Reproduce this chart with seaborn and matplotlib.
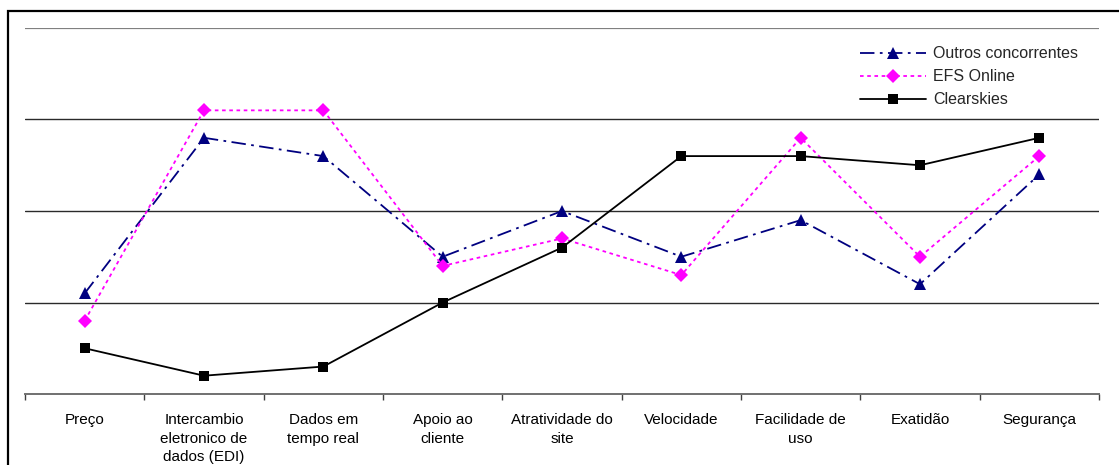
import numpy as np
import pandas as pd
import matplotlib
matplotlib.use("Agg")
import matplotlib.pyplot as plt
import matplotlib.patches as mpatches
from matplotlib.ticker import FixedLocator
import seaborn as sns

categories = ["Preço", "Intercambio eletronico de dados (EDI)", "Dados em tempo real",
              "Apoio ao cliente", "Atratividade do site", "Velocidade",
              "Facilidade de uso", "Exatidão", "Segurança"]
tick_labels = ["Preço", "Intercambio\neletronico de\ndados (EDI)", "Dados em\ntempo real",
               "Apoio ao\ncliente", "Atratividade do\nsite", "Velocidade",
               "Facilidade de\nuso", "Exatidão", "Segurança"]
series_names = ["Outros concorrentes", "EFS Online", "Clearskies"]
outros = [1.1, 2.8, 2.6, 1.5, 2.0, 1.5, 1.9, 1.2, 2.4]
efs = [0.8, 3.1, 3.1, 1.4, 1.7, 1.3, 2.8, 1.5, 2.6]
clearskies = [0.5, 0.2, 0.3, 1.0, 1.6, 2.6, 2.6, 2.5, 2.8]

df = pd.DataFrame({
    "categoria": categories * 3,
    "valor": outros + efs + clearskies,
    "serie": np.repeat(series_names, len(categories)),
})

sns.set_theme(style="white")
plt.rcParams["font.family"] = ["Liberation Sans", "DejaVu Sans"]

fig = plt.figure(figsize=(11.19, 4.65), dpi=100)
ax = fig.add_axes([25 / 1119, 1 - 394 / 465, (1099 - 25) / 1119, (394 - 28) / 465])

palette = {"Outros concorrentes": "#000080", "EFS Online": "#FF00FF", "Clearskies": "#000000"}
markers = {"Outros concorrentes": "^", "EFS Online": "D", "Clearskies": "s"}
dashes = {"Outros concorrentes": (8, 3, 1.5, 3), "EFS Online": (2, 2), "Clearskies": ""}

sns.lineplot(data=df, x="categoria", y="valor", hue="serie", style="serie",
             palette=palette, markers=markers, dashes=dashes, ax=ax,
             sort=False, linewidth=1.3, markersize=9, markeredgewidth=0,
             hue_order=series_names, style_order=series_names)

for line in ax.get_lines():
    if line.get_marker() == "D":
        line.set_markersize(7)
    elif line.get_marker() == "s":
        line.set_markersize(7.3)

ax.set_xlim(-0.5, len(categories) - 0.5)
ax.set_ylim(0, 4)
ax.set_xlabel("")
ax.set_ylabel("")
ax.set_yticks([])
for y in [1, 2, 3]:
    ax.axhline(y, color="#2a2a2a", lw=1.0, zorder=0)
ax.axhline(4, color="#808080", lw=1.6, zorder=0)

for s in ["left", "right", "top"]:
    ax.spines[s].set_visible(False)
ax.spines["bottom"].set_color("#707070")
ax.spines["bottom"].set_linewidth(1.4)

ax.set_xticks(range(len(categories)))
ax.set_xticklabels(tick_labels, fontsize=11, linespacing=1.38, va="top")
ax.tick_params(axis="x", which="major", bottom=False, length=0, pad=14, colors="#000000")
ax.xaxis.set_minor_locator(FixedLocator(np.arange(-0.5, len(categories), 1.0)))
ax.tick_params(axis="x", which="minor", bottom=True, length=4, width=1.0,
               color="#404040", direction="out")

leg = ax.legend(loc="upper right", bbox_to_anchor=(0.9805, 0.950), frameon=False,
                fontsize=11.5, handlelength=4.1, handletextpad=0.45,
                labelspacing=0.5, borderaxespad=0, borderpad=0)

border = mpatches.Rectangle((8 / 1119, -0.2), 1.2, (465 - 11) / 465 + 0.2,
                            transform=fig.transFigure, fill=False,
                            edgecolor="black", linewidth=1.6, clip_on=False)
fig.patches.append(border)

fig.savefig("out.png", dpi=100)
